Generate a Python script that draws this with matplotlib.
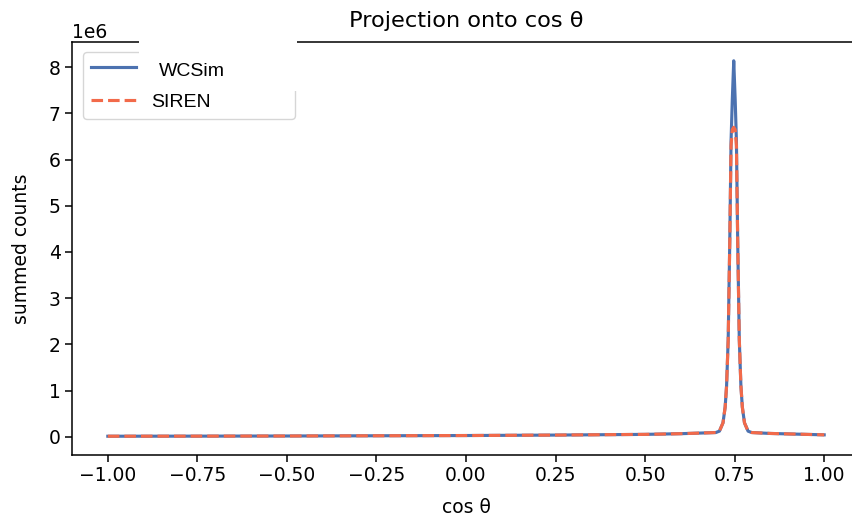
import matplotlib
matplotlib.use("Agg")
import matplotlib.pyplot as plt
from matplotlib.patches import Rectangle
import numpy as np

# cos(theta) sample points and summed counts (in units of 1e6)
cos_theta = [-1.0, -0.75, -0.5, -0.25, 0.0, 0.25, 0.5, 0.6, 0.68, 0.6975, 0.7075,
             0.7175, 0.7235, 0.7275, 0.732, 0.7365, 0.74, 0.7435, 0.7475, 0.7515,
             0.755, 0.7585, 0.763, 0.7675, 0.7715, 0.7775, 0.7875, 0.7975, 0.85,
             0.9, 0.95, 1.0]
wcsim_counts = [0.01, 0.012, 0.015, 0.02, 0.025, 0.035, 0.05, 0.065, 0.085, 0.09, 0.12,
                0.3, 0.64, 1.1, 2.1, 4.26, 6.4, 7.3, 8.14, 7.3,
                6.4, 4.26, 2.1, 1.1, 0.64, 0.3, 0.12, 0.09, 0.07,
                0.06, 0.05, 0.04]
siren_counts = [0.01, 0.012, 0.015, 0.02, 0.025, 0.035, 0.05, 0.065, 0.085, 0.09, 0.12,
                0.3, 0.64, 1.1, 2.1, 4.26, 6.3, 6.65, 6.70, 6.65,
                6.3, 4.26, 2.1, 1.1, 0.64, 0.3, 0.12, 0.09, 0.07,
                0.06, 0.05, 0.04]

x = np.array(cos_theta)
y_wcsim = np.array(wcsim_counts) * 1e6
y_siren = np.array(siren_counts) * 1e6

fs = 13.5
plt.rcParams['font.size'] = fs
plt.rcParams['savefig.bbox'] = 'standard'  # keep the exact canvas size

fig = plt.figure(figsize=(8.53, 5.18), dpi=100)
ax = fig.add_axes([72 / 853, 1 - 455 / 518, 788 / 853, 413 / 518])

ax.plot(x, y_wcsim, color='#4c72b0', lw=2.25, label='WCSim')
ax.plot(x, y_siren, color='#f26a4a', lw=2.25, ls='--', label='SIREN')

ax.set_title('Projection onto cos θ', fontsize=16.2, pad=10.5)
ax.set_xlabel('cos θ', fontsize=fs, labelpad=9)
ax.set_ylabel('summed counts', fontsize=fs, labelpad=13)
ax.set_xticks([-1.0, -0.75, -0.5, -0.25, 0.0, 0.25, 0.5, 0.75, 1.0])
ax.tick_params(labelsize=fs, length=4.7, width=1.1)
ax.yaxis.get_offset_text().set_fontsize(fs)
for s in ax.spines.values():
    s.set_linewidth(1.1)
ax.spines['right'].set_visible(False)  # lies past the right edge of the picture

leg = ax.legend(loc='upper left', bbox_to_anchor=(11 / 788, 0.80, 212 / 788, 0.175),
                mode='expand', borderaxespad=0, handlelength=2.3, labelspacing=0.8,
                prop={'family': 'Liberation Sans', 'size': 14})
leg.get_texts()[0].set_visible(False)

# white patch covering the top of the legend, with the label written over it
fig.add_artist(Rectangle((139 / 853, 1 - 91 / 518), 158 / 853, 66 / 518,
                         transform=fig.transFigure, facecolor='white',
                         edgecolor='none', zorder=2))
fig.text(159 / 853, 1 - 71 / 518, 'WCSim', family='Liberation Sans', fontsize=14,
         va='center', ha='left', color='black', zorder=3)

fig.savefig('out.png', dpi=100)
